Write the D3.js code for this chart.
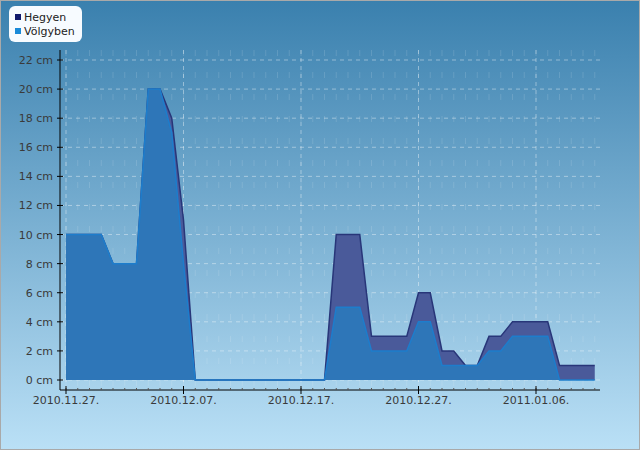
<!DOCTYPE html>
<html>
<head>
<meta charset="utf-8">
<script src="https://cdn.jsdelivr.net/npm/d3@7/dist/d3.min.js"></script>
<style>
  html, body { margin: 0; padding: 0; background: #fff; }
  svg { display: block; font-family: "DejaVu Sans", sans-serif; }
</style>
</head>
<body>
<svg id="chart" width="640" height="450"></svg>
<script>
// one value per day, 2010.11.27. -> 2011.01.11.
const dates = [
  '2010-11-27', '2010-11-28', '2010-11-29', '2010-11-30', '2010-12-01', '2010-12-02',
  '2010-12-03', '2010-12-04', '2010-12-05', '2010-12-06', '2010-12-07', '2010-12-08',
  '2010-12-09', '2010-12-10', '2010-12-11', '2010-12-12', '2010-12-13', '2010-12-14',
  '2010-12-15', '2010-12-16', '2010-12-17', '2010-12-18', '2010-12-19', '2010-12-20',
  '2010-12-21', '2010-12-22', '2010-12-23', '2010-12-24', '2010-12-25', '2010-12-26',
  '2010-12-27', '2010-12-28', '2010-12-29', '2010-12-30', '2010-12-31', '2011-01-01',
  '2011-01-02', '2011-01-03', '2011-01-04', '2011-01-05', '2011-01-06', '2011-01-07',
  '2011-01-08', '2011-01-09', '2011-01-10', '2011-01-11'
];
const hegyen = [
  10, 10, 10, 10, 8, 8, 8, 20, 20, 18, 11, 0, 0, 0, 0, 0, 0, 0, 0, 0, 0, 0, 0,
  10, 10, 10, 3, 3, 3, 3, 6, 6, 2, 2, 1, 1, 3, 3, 4, 4, 4, 4, 1, 1, 1, 1
];
const volgyben = [
  10, 10, 10, 10, 8, 8, 8, 20, 20, 17, 8, 0, 0, 0, 0, 0, 0, 0, 0, 0, 0, 0, 0,
  5, 5, 5, 2, 2, 2, 2, 4, 4, 1, 1, 1, 1, 2, 2, 3, 3, 3, 3, 0, 0, 0, 0
];
const xTickDates = ['2010-11-27', '2010-12-07', '2010-12-17', '2010-12-27', '2011-01-06'];
const yTicks = [0, 2, 4, 6, 8, 10, 12, 14, 16, 18, 20, 22];
const seriesNames = ['Hegyen', 'Völgyben'];

const W = 640, H = 450;
const parse = d3.utcParse('%Y-%m-%d');
const days = dates.map(parse);

const svg = d3.select('#chart');

// background gradient
const defs = svg.append('defs');
const grad = defs.append('linearGradient')
  .attr('id', 'bg').attr('x1', 0).attr('y1', 0).attr('x2', 0).attr('y2', 1);
grad.append('stop').attr('offset', '0%').attr('stop-color', '#3a80ae');
grad.append('stop').attr('offset', '100%').attr('stop-color', '#bae0f6');

svg.append('rect')
  .attr('x', 0.5).attr('y', 0.5).attr('width', W - 1).attr('height', H - 1)
  .attr('fill', 'url(#bg)')
  .attr('stroke', '#a9a9a9');

const x = d3.scaleUtc()
  .domain(d3.extent(days))
  .range([66, 594.75]);
const y = d3.scaleLinear()
  .domain([0, 22])
  .range([380, 60]);

const plotLeft = 60, plotRight = 600, plotTop = 50, plotBottom = 390;

// grid
const grid = svg.append('g');
grid.selectAll('.vminor')
  .data(days)
  .enter().append('line')
  .attr('x1', d => x(d)).attr('x2', d => x(d))
  .attr('y1', plotTop).attr('y2', plotBottom)
  .attr('stroke', '#fff').attr('stroke-opacity', 0.13)
  .attr('stroke-dasharray', '6,16');
grid.selectAll('.hgrid')
  .data(yTicks)
  .enter().append('line')
  .attr('x1', plotLeft).attr('x2', plotRight)
  .attr('y1', d => y(d)).attr('y2', d => y(d))
  .attr('stroke', '#fff').attr('stroke-opacity', 0.4)
  .attr('stroke-dasharray', '4,4');
grid.selectAll('.vmajor')
  .data(xTickDates.map(parse))
  .enter().append('line')
  .attr('x1', d => x(d)).attr('x2', d => x(d))
  .attr('y1', plotTop).attr('y2', plotBottom)
  .attr('stroke', '#fff').attr('stroke-opacity', 0.4)
  .attr('stroke-dasharray', '4,4');

// areas
const area = d3.area()
  .x((d, i) => x(days[i]))
  .y0(y(0))
  .y1(d => y(d));
const line = d3.line()
  .x((d, i) => x(days[i]))
  .y(d => y(d));

svg.append('path')
  .datum(hegyen)
  .attr('d', area)
  .attr('fill', '#4a5a9a');
svg.append('path')
  .datum(hegyen)
  .attr('d', line)
  .attr('fill', 'none')
  .attr('stroke', '#283679')
  .attr('stroke-width', 1.5);

svg.append('path')
  .datum(volgyben)
  .attr('d', area)
  .attr('fill', '#2e76b8');
svg.append('path')
  .datum(volgyben)
  .attr('d', line)
  .attr('fill', 'none')
  .attr('stroke', '#1d7dcc')
  .attr('stroke-width', 1.5);

// axes
const yAxis = svg.append('g');
yAxis.append('line')
  .attr('x1', plotLeft).attr('x2', plotLeft).attr('y1', plotTop).attr('y2', plotBottom)
  .attr('stroke', '#000');
yAxis.selectAll('.tick')
  .data(yTicks)
  .enter().append('line')
  .attr('x1', plotLeft - 3).attr('x2', plotLeft + 3)
  .attr('y1', d => y(d)).attr('y2', d => y(d))
  .attr('stroke', '#000');
yAxis.selectAll('text')
  .data(yTicks)
  .enter().append('text')
  .attr('x', 53)
  .attr('y', d => y(d) + 4)
  .attr('text-anchor', 'end')
  .attr('fill', '#3a3a3a')
  .style('font-size', '11px')
  .text(d => d + ' cm');

const xAxis = svg.append('g');
xAxis.append('line')
  .attr('x1', plotLeft).attr('x2', plotRight).attr('y1', plotBottom).attr('y2', plotBottom)
  .attr('stroke', '#000');
xAxis.selectAll('.minor')
  .data(days)
  .enter().append('line')
  .attr('x1', d => x(d)).attr('x2', d => x(d))
  .attr('y1', plotBottom - 2).attr('y2', plotBottom)
  .attr('stroke', '#555');
xAxis.selectAll('.major')
  .data(xTickDates.map(parse))
  .enter().append('line')
  .attr('x1', d => x(d)).attr('x2', d => x(d))
  .attr('y1', plotBottom - 4).attr('y2', plotBottom + 4)
  .attr('stroke', '#000');
xAxis.selectAll('text')
  .data(xTickDates.map(parse))
  .enter().append('text')
  .attr('x', d => x(d))
  .attr('y', plotBottom + 14)
  .attr('text-anchor', 'middle')
  .attr('fill', '#3a3a3a')
  .style('font-size', '11px')
  .text(d3.utcFormat('%Y.%m.%d.'));

// legend
const colors = d3.scaleOrdinal().domain(seriesNames).range(['#111a6c', '#1a8ad8']);
const legend = svg.append('g');
legend.append('rect')
  .attr('x', 9).attr('y', 6).attr('width', 73).attr('height', 36)
  .attr('rx', 6)
  .attr('fill', '#f7fbff');
const legendG = legend.selectAll('.legend')
  .data(seriesNames)
  .enter().append('g')
  .attr('transform', (d, i) => 'translate(15,' + (14 + i * 14) + ')');
legendG.append('rect')
  .attr('width', 6).attr('height', 6)
  .attr('fill', d => colors(d));
legendG.append('text')
  .attr('x', 9).attr('y', 6.5)
  .attr('fill', '#222')
  .style('font-size', '11px')
  .text(d => d);
</script>
</body>
</html>
